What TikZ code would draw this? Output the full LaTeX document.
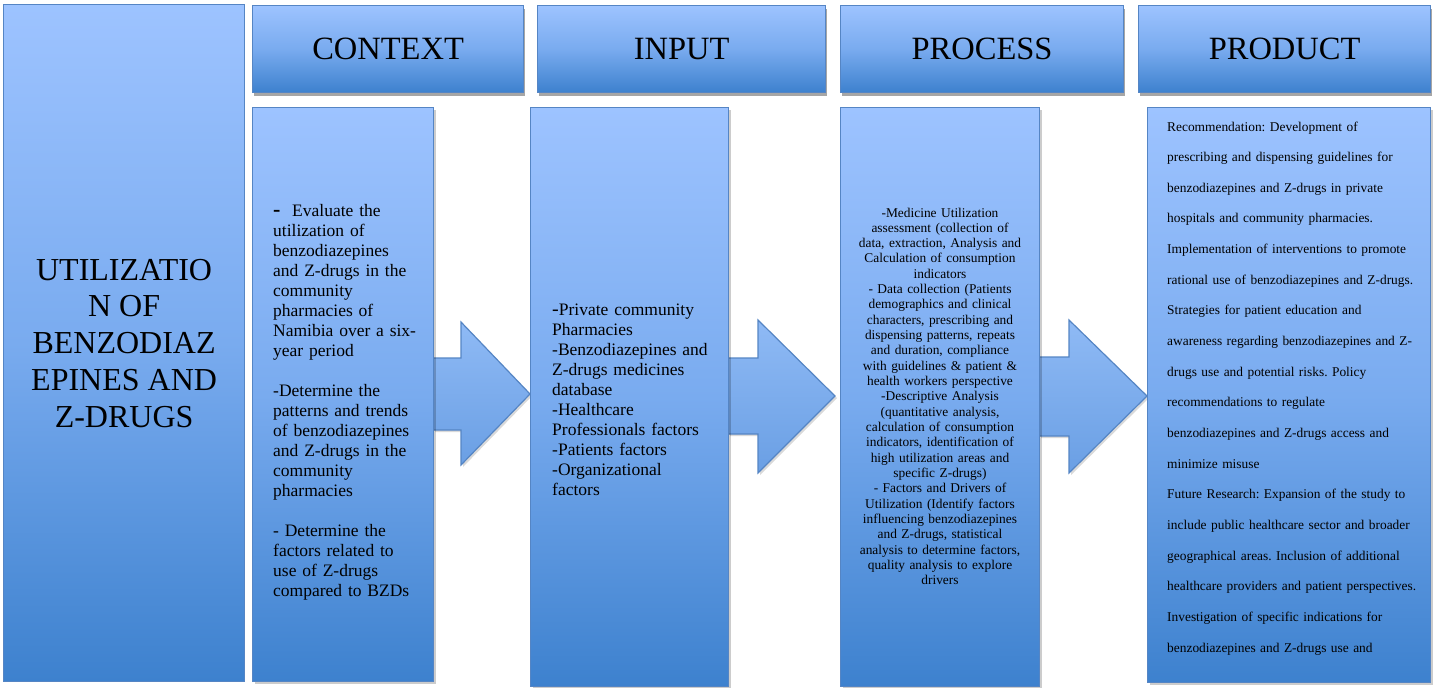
\documentclass[tikz,border=0pt]{standalone}
\usepackage{fontspec}
\setmainfont{Liberation Serif}
\usetikzlibrary{shadows,calc}
\definecolor{boxtop}{HTML}{9DC3FF}
\definecolor{boxmid}{HTML}{79ABEF}
\definecolor{boxbot}{HTML}{3D81CE}
\definecolor{boxline}{HTML}{5585C4}
\definecolor{arrtop}{HTML}{8FBAF5}
\definecolor{arrbot}{HTML}{6A9FE4}
\frenchspacing
\begin{document}
\begin{tikzpicture}[x=1pt,y=-1pt,
  panel/.style={rectangle, draw=boxline, line width=1.2pt, top color=boxtop, bottom color=boxbot, middle color=boxmid, inner sep=0pt, anchor=north west},
  headbox/.style={panel, drop shadow={shadow xshift=1pt, shadow yshift=-3pt, fill=black, opacity=0.35}, font=\fontsize{32.5}{36}\selectfont},
  bodybox/.style={panel, drop shadow={shadow xshift=2pt, shadow yshift=-2pt, fill=black, opacity=0.2}},
  arrowbox/.style={draw=boxline, line width=1.2pt, top color=arrtop, bottom color=arrbot, drop shadow={shadow xshift=2pt, shadow yshift=-2pt, fill=black, opacity=0.15}},
  bigtext/.style={inner sep=0pt, anchor=base west, text width=200pt, align=left, font=\fontsize{17.5}{20}\selectfont\frenchspacing},
]
\useasboundingbox (0,0) rectangle (1433,688);

\coordinate (a1t) at (530,394);
\coordinate (a2t) at (835,396);
\coordinate (a3t) at (1147,396);

\node[panel, minimum width=241pt, minimum height=677pt, align=center,
      font=\fontsize{32}{36.75}\selectfont] (title) at (3,4)
  {UTILIZATIO\\N OF\\BENZODIAZ\\EPINES AND\\Z-DRUGS};

\node[headbox, minimum width=271pt, minimum height=87pt] (ctxh) at (252,5) {CONTEXT};
\node[headbox, minimum width=288pt, minimum height=87pt] (inph) at (537,5) {INPUT};
\node[headbox, minimum width=283pt, minimum height=87pt] (prch) at (840,5) {PROCESS};
\node[headbox, minimum width=292pt, minimum height=87pt] (prdh) at (1138,5) {PRODUCT};

\draw[arrowbox] (433,358) -- (461,358) -- (461,322) -- (a1t) -- (461,465) -- (461,430) -- (433,430) -- cycle;
\draw[arrowbox] (728,358) -- (758,358) -- (758,320) -- (a2t) -- (758,473) -- (758,434) -- (728,434) -- cycle;
\draw[arrowbox] (1039,357) -- (1069,357) -- (1069,320) -- (a3t) -- (1069,473) -- (1069,436) -- (1039,436) -- cycle;

\node[bodybox, minimum width=181pt, minimum height=574pt] (ctxb) at (252,107) {};
\node[bodybox, minimum width=198pt, minimum height=579pt] (inpb) at (530,107) {};
\node[bodybox, minimum width=199pt, minimum height=579pt] (prcb) at (840,107) {};
\node[bodybox, minimum width=283pt, minimum height=575pt] (prdb) at (1147,107) {};

\node[bigtext] (ctxt) at (273,216) {%
{\fontsize{22}{20}\selectfont\bfseries -}\ \ Evaluate the\\
utilization of\\
benzodiazepines\\
and Z-drugs in the\\
community\\
pharmacies of\\
Namibia over a six-\\
year period\\[20pt]
-Determine the\\
patterns and trends\\
of benzodiazepines\\
and Z-drugs in the\\
community\\
pharmacies\\[20pt]
- Determine the\\
factors related to\\
use of Z-drugs\\
compared to BZDs};

\node[bigtext] (inpt) at (552,315) {%
{\fontsize{20}{20}\selectfont -}Private community\\
Pharmacies\\
-Benzodiazepines and\\
Z-drugs medicines\\
database\\
-Healthcare\\
Professionals factors\\
-Patients factors\\
-Organizational\\
factors};

\node[inner sep=0pt, anchor=base, text width=199pt, align=center,
      font=\fontsize{13.4}{15.33}\selectfont\frenchspacing] (prct) at (940,217) {%
-Medicine Utilization\\
assessment (collection of\\
data, extraction, Analysis and\\
Calculation of consumption\\
indicators\\
- Data collection (Patients\\
demographics and clinical\\
characters, prescribing and\\
dispensing patterns, repeats\\
and duration, compliance\\
with guidelines \& patient \&\\
health workers perspective\\
-Descriptive Analysis\\
(quantitative analysis,\\
calculation of consumption\\
indicators, identification of\\
high utilization areas and\\
specific Z-drugs)\\
- Factors and Drivers of\\
Utilization (Identify factors\\
influencing benzodiazepines\\
and Z-drugs, statistical\\
analysis to determine factors,\\
quality analysis to explore\\
drivers};

\node[inner sep=0pt, anchor=base west, text width=262pt, align=left,
      font=\fontsize{13.4}{30.65}\selectfont\frenchspacing] (prdt) at (1167,131) {%
Recommendation: Development of\\
prescribing and dispensing guidelines for\\
benzodiazepines and Z-drugs in private\\
hospitals and community pharmacies.\\
Implementation of interventions to promote\\
rational use of benzodiazepines and Z-drugs.\\
Strategies for patient education and\\
awareness regarding benzodiazepines and Z-\\
drugs use and potential risks. Policy\\
recommendations to regulate\\
benzodiazepines and Z-drugs access and\\
minimize misuse\\
Future Research: Expansion of the study to\\
include public healthcare sector and broader\\
geographical areas. Inclusion of additional\\
healthcare providers and patient perspectives.\\
Investigation of specific indications for\\
benzodiazepines and Z-drugs use and};
\end{tikzpicture}
\end{document}
